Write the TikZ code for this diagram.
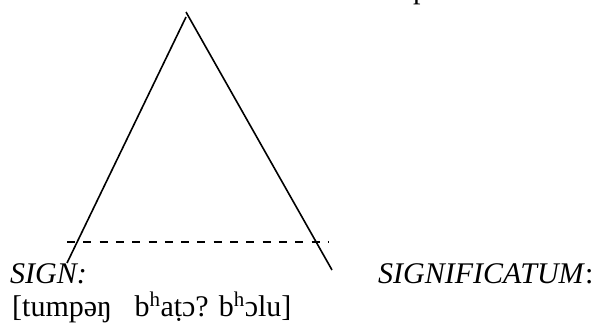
\documentclass[tikz,border=0pt]{standalone}
\usepackage{fontspec}
\setmainfont{Liberation Serif}
\newcommand{\asp}{\textsuperscript{h}}
\begin{document}
\begin{tikzpicture}[x=1pt,y=-1pt,
  stroke/.style={line width=1.6pt},
  baseline line/.style={line width=1.6pt, dash pattern=on 8pt off 8.3pt},
  label/.style={anchor=base west, inner sep=0pt, font=\fontsize{30}{36}\selectfont}]
\useasboundingbox (0,0) rectangle (600,327);
\coordinate (apexL) at (186,17);
\coordinate (signEnd) at (67,263);
\coordinate (apexR) at (186,12);
\coordinate (sigEnd) at (332,270);
\coordinate (dashL) at (67,242);
\coordinate (dashR) at (328,242);
\draw[stroke] (apexL) -- (signEnd);
\draw[stroke] (apexR) -- (sigEnd);
\draw[baseline line] (dashL) -- (dashR);
\node[label] (top) at (413,-1.5) {p};
\node[label] (sign) at (10,283) {\textit{SIGN:}};
\node[label] (signif) at (378,283) {\textit{SIGNIFICATUM}:};
\node[label] (ipa) at (12,316) {[tumpəŋ\hspace{0.5em} b\asp aṭɔ? b\asp ɔlu]};
\end{tikzpicture}
\end{document}
